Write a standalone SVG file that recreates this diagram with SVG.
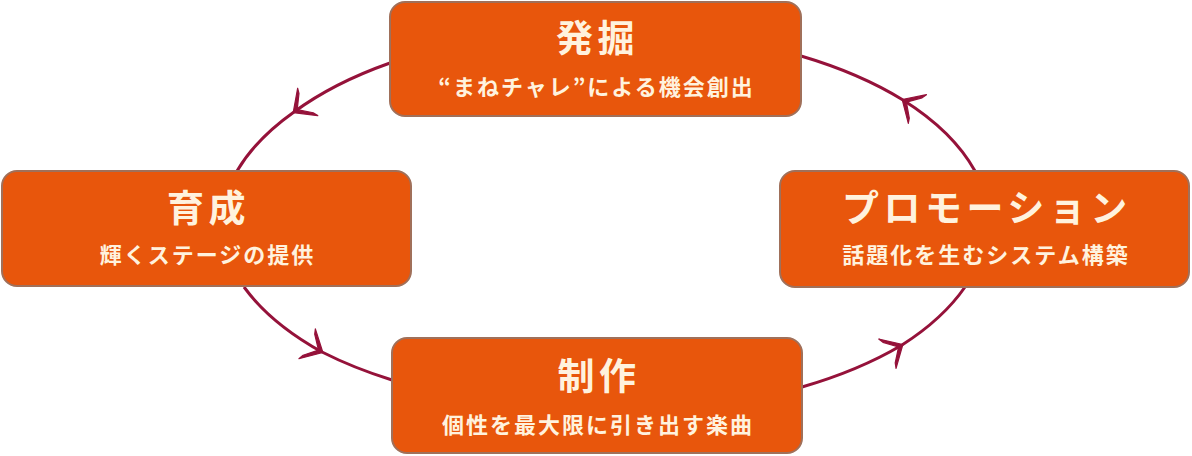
<svg xmlns="http://www.w3.org/2000/svg" width="1192" height="456" viewBox="0 0 1192 456">
<style>
.box{fill:#E8560C;stroke:#A0705A;stroke-width:2}
.t{font-family:"Noto Sans CJK JP","Noto Sans",sans-serif;font-weight:bold;fill:#FFF2DE;text-anchor:middle}
.title{font-size:37px;letter-spacing:4.5px}
.sub{font-size:22px;letter-spacing:2px}
.conn{fill:none;stroke:#95123A;stroke-width:3}
</style>
<defs>
<marker id="arr" markerUnits="userSpaceOnUse" markerWidth="40" markerHeight="40" refX="0" refY="0" orient="auto" overflow="visible">
<path d="M1,0 L-17,-17 L-15,-12 L-4,0 L-15,12 L-17,17 Z" fill="#95123A" stroke="#95123A" stroke-width="1.2" stroke-linejoin="round"/>
</marker>
</defs>
<rect width="1192" height="456" fill="#FFFFFF"/>
<g id="connectors">
<path class="conn" d="M390,63 A375,197 0 0 0 294,112" marker-end="url(#arr)"/>
<path class="conn" d="M294,112 A375,197 0 0 0 237,171"/>
<path class="conn" d="M244,287 A375,197 0 0 0 322,352" marker-end="url(#arr)"/>
<path class="conn" d="M322,352 A375,197 0 0 0 392,380"/>
<path class="conn" d="M802,387 A375,197 0 0 0 902,345" marker-end="url(#arr)"/>
<path class="conn" d="M902,345 A375,197 0 0 0 965,287"/>
<path class="conn" d="M975,171 A375,197 0 0 0 903,100" marker-end="url(#arr)"/>
<path class="conn" d="M903,100 A375,197 0 0 0 801,56"/>
</g>
<g id="node-hakkutsu">
<rect class="box" x="390" y="2" width="411" height="114" rx="15"/>
<text class="t title" x="597.5" y="52">発掘</text>
<text class="t sub" x="596.5" y="95">“まねチャレ”による機会創出</text>
</g>
<g id="node-ikusei">
<rect class="box" x="2" y="171" width="409" height="115" rx="15"/>
<text class="t title" x="208.5" y="222">育成</text>
<text class="t sub" x="207.5" y="263">輝くステージの提供</text>
</g>
<g id="node-promotion">
<rect class="box" x="780" y="171" width="409" height="116" rx="15"/>
<text class="t title" x="987" y="222">プロモーション</text>
<text class="t sub" x="986" y="263">話題化を生むシステム構築</text>
</g>
<g id="node-seisaku">
<rect class="box" x="392" y="338" width="410" height="115" rx="15"/>
<text class="t title" x="599" y="390">制作</text>
<text class="t sub" x="598" y="433">個性を最大限に引き出す楽曲</text>
</g>
</svg>
